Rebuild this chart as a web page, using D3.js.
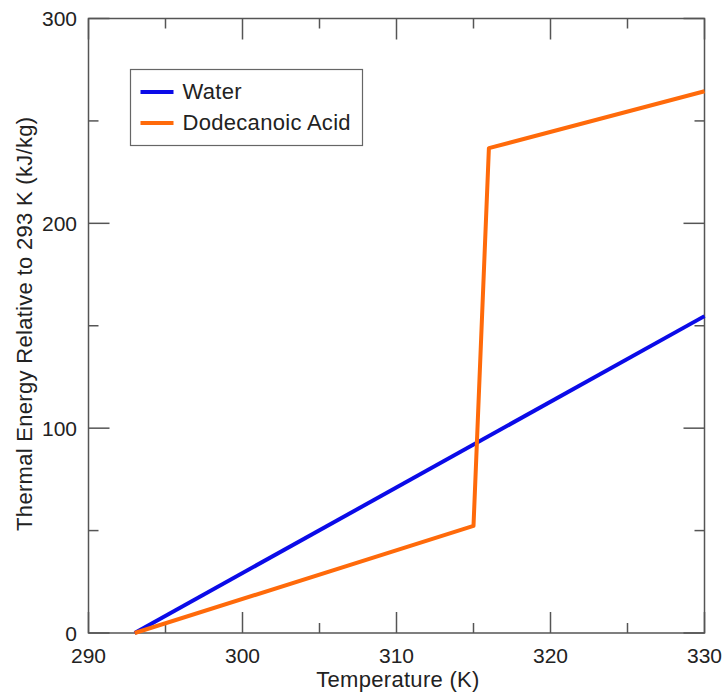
<!DOCTYPE html>
<html>
<head>
<meta charset="utf-8">
<script src="https://cdn.jsdelivr.net/npm/d3@7"></script>
<style>
  body { margin: 0; background: #fff; }
  text { font-family: "Liberation Sans", Arial, sans-serif; fill: #222; }
</style>
</head>
<body>
<svg id="chart" width="724" height="696"></svg>
<script>
const xTicks = [290, 300, 310, 320, 330];
const xMinor = [295, 305, 315, 325];
const yTicks = [0, 100, 200, 300];
const yMinor = [50, 150, 250];

const waterT = [293, 330];
const waterE = [0, 154.7];
const acidT = [293, 315, 316, 330];
const acidE = [0, 52.3, 236.7, 264.5];

const seriesNames = ["Water", "Dodecanoic Acid"];
const seriesColors = ["#0b0be8", "#ff6a0a"];

const svg = d3.select("#chart"),
  margin = {top: 18.5, right: 19.5, bottom: 63, left: 88.5},
  width = +svg.attr("width") - margin.left - margin.right,
  height = +svg.attr("height") - margin.top - margin.bottom,
  g = svg.append("g").attr("transform", `translate(${margin.left},${margin.top})`);

const x = d3.scaleLinear().domain([290, 330]).range([0, width]);
const y = d3.scaleLinear().domain([0, 300]).range([height, 0]);

const axisColor = "#555";
const major = 21, minor = 10;

// frame
g.append("rect")
  .attr("width", width).attr("height", height)
  .attr("fill", "none").attr("stroke", axisColor).attr("stroke-width", 1.5);

// ticks on all four sides, pointing inwards
const tickG = g.append("g").attr("stroke", axisColor).attr("stroke-width", 1.5);
[[xTicks, major], [xMinor, minor]].forEach(([vals, len]) => {
  vals.forEach(v => {
    tickG.append("line").attr("x1", x(v)).attr("x2", x(v)).attr("y1", height).attr("y2", height - len);
    tickG.append("line").attr("x1", x(v)).attr("x2", x(v)).attr("y1", 0).attr("y2", len);
  });
});
[[yTicks, major], [yMinor, minor]].forEach(([vals, len]) => {
  vals.forEach(v => {
    tickG.append("line").attr("y1", y(v)).attr("y2", y(v)).attr("x1", 0).attr("x2", len);
    tickG.append("line").attr("y1", y(v)).attr("y2", y(v)).attr("x1", width).attr("x2", width - len);
  });
});

// tick labels
g.selectAll(".xl").data(xTicks).join("text")
  .attr("x", d => x(d)).attr("y", height + 30)
  .attr("text-anchor", "middle").attr("font-size", 21)
  .text(d => d);

g.selectAll(".yl").data(yTicks).join("text")
  .attr("x", -11.5).attr("y", d => y(d) + 7.5)
  .attr("text-anchor", "end").attr("font-size", 21)
  .text(d => d);

// axis titles
g.append("text")
  .attr("x", width / 2 + 1.5).attr("y", height + 53.5)
  .attr("text-anchor", "middle").attr("font-size", 22)
  .attr("letter-spacing", 0.3)
  .text("Temperature (K)");

g.append("text")
  .attr("transform", "rotate(-90)")
  .attr("x", -height / 2 + 2).attr("y", -56.5)
  .attr("text-anchor", "middle").attr("font-size", 22)
  .attr("letter-spacing", 0.3)
  .text("Thermal Energy Relative to 293 K (kJ/kg)");

// lines
const line = d3.line().x(d => x(d[0])).y(d => y(d[1]));
const series = [
  waterT.map((t, i) => [t, waterE[i]]),
  acidT.map((t, i) => [t, acidE[i]])
];
series.forEach((s, i) => {
  g.append("path")
    .datum(s)
    .attr("fill", "none")
    .attr("stroke", seriesColors[i])
    .attr("stroke-width", 4)
    .attr("stroke-linejoin", "round")
    .attr("d", line);
});

// legend
const leg = svg.append("g").attr("transform", "translate(130.5,69.5)");
leg.append("rect")
  .attr("width", 232).attr("height", 76)
  .attr("fill", "#fff").attr("stroke", "#666").attr("stroke-width", 1.2);
seriesNames.forEach((name, i) => {
  const yy = 22.5 + i * 31;
  leg.append("line")
    .attr("x1", 10).attr("x2", 43).attr("y1", yy).attr("y2", yy)
    .attr("stroke", seriesColors[i]).attr("stroke-width", 4);
  leg.append("text")
    .attr("x", 52).attr("y", yy + 7).attr("font-size", 22)
    .attr("letter-spacing", 0.3)
    .text(name);
});
</script>
</body>
</html>
